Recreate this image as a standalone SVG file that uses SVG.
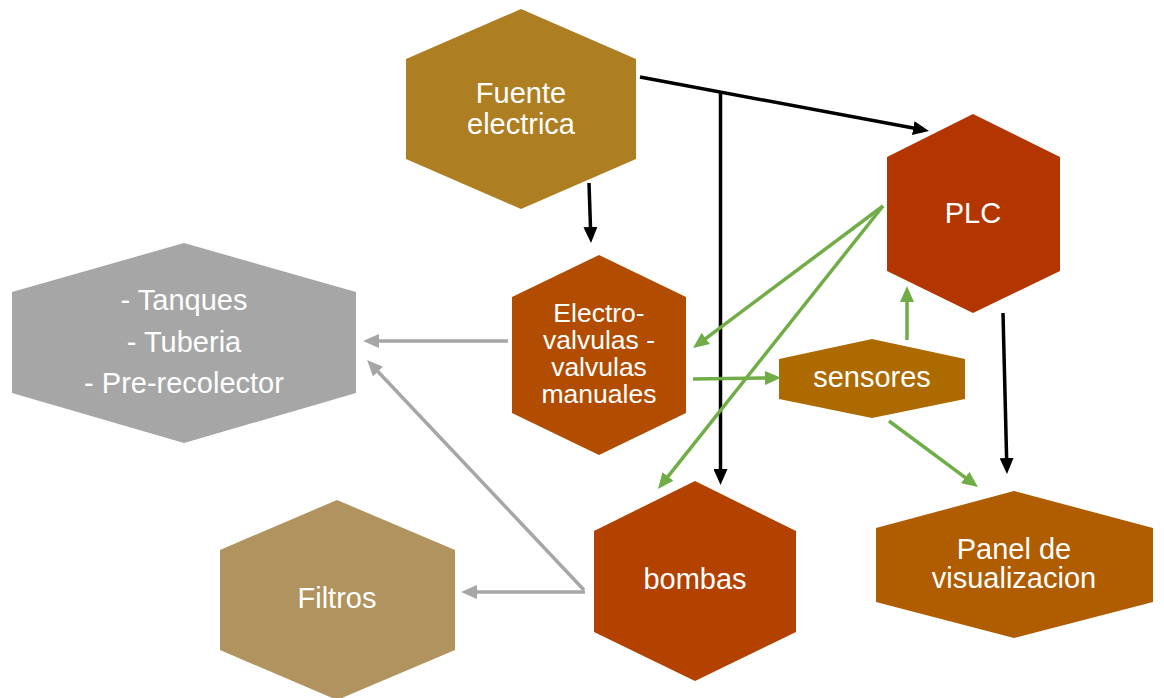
<svg xmlns="http://www.w3.org/2000/svg" width="1164" height="698" viewBox="0 0 1164 698">
<style>
text{font-family:"Liberation Sans",Arial,sans-serif;fill:#fff;text-anchor:middle;font-size:29px}
.sm{font-size:26.5px}
.bk{stroke:#000;stroke-width:3.5;fill:none}
.gr{stroke:#70AD47;stroke-width:3.5;fill:none}
.gy{stroke:#A6A6A6;stroke-width:3.5;fill:none}
</style>
<defs>
<marker id="aBk" markerUnits="userSpaceOnUse" markerWidth="16" markerHeight="14" refX="4" refY="7" orient="auto"><path d="M0,0 L16,7 L0,14 z" fill="#000"/></marker>
<marker id="aGr" markerUnits="userSpaceOnUse" markerWidth="16" markerHeight="14" refX="4" refY="7" orient="auto"><path d="M0,0 L16,7 L0,14 z" fill="#70AD47"/></marker>
<marker id="aGy" markerUnits="userSpaceOnUse" markerWidth="16" markerHeight="14" refX="4" refY="7" orient="auto"><path d="M0,0 L16,7 L0,14 z" fill="#A6A6A6"/></marker>
</defs>
<rect width="1164" height="698" fill="#fff"/>
<g id="fuente">
<polygon points="406,59 521,9 636,59 636,159 521,209 406,159" fill="#AE7E22"/>
<text x="521" y="103">Fuente</text>
<text x="521" y="134">electrica</text>
</g>
<g id="plc">
<polygon points="887,157 973,114 1060,157 1060,271 973,313 887,271" fill="#B33600"/>
<text x="973" y="223">PLC</text>
</g>
<g id="electro">
<polygon points="512,297 599,255 686,297 686,413 599,455 512,413" fill="#B24C00"/>
<text class="sm" x="599" y="322">Electro-</text>
<text class="sm" x="599" y="349">valvulas -</text>
<text class="sm" x="599" y="376">valvulas</text>
<text class="sm" x="599" y="403">manuales</text>
</g>
<g id="tanques">
<polygon points="12,292 184,243 356,292 356,393 184,443 12,393" fill="#A6A6A6"/>
<text x="184" y="310">- Tanques</text>
<text x="184" y="352">- Tuberia</text>
<text x="184" y="393">- Pre-recolector</text>
</g>
<g id="sensores">
<polygon points="779,359 872,339 965,359 965,399 872,418 779,399" fill="#AD6A00"/>
<text x="872" y="387">sensores</text>
</g>
<g id="bombas">
<polygon points="594,531 695,481 796,531 796,632 695,681 594,632" fill="#B34100"/>
<text x="695" y="589">bombas</text>
</g>
<g id="filtros">
<polygon points="220,550 337,500 455,550 455,650 337,700 220,650" fill="#B0935E"/>
<text x="337" y="608">Filtros</text>
</g>
<g id="panel">
<polygon points="876,528 1014,491 1153,528 1153,602 1014,638 876,602" fill="#B05C00"/>
<text x="1014" y="559">Panel de</text>
<text x="1014" y="588">visualizacion</text>
</g>
<g id="connectors">
<line class="bk" x1="640" y1="77" x2="917.2" y2="128.8" marker-end="url(#aBk)"/>
<line class="bk" x1="720.5" y1="92" x2="720.5" y2="473" marker-end="url(#aBk)"/>
<line class="bk" x1="589" y1="183" x2="590.6" y2="231" marker-end="url(#aBk)"/>
<line class="bk" x1="1003" y1="313" x2="1006.7" y2="462" marker-end="url(#aBk)"/>
<line class="gr" x1="883" y1="206" x2="702.6" y2="340.8" marker-end="url(#aGr)"/>
<line class="gr" x1="883" y1="206" x2="665.5" y2="479.6" marker-end="url(#aGr)"/>
<line class="gr" x1="693" y1="379" x2="769" y2="378" marker-end="url(#aGr)"/>
<line class="gr" x1="907" y1="340" x2="907" y2="298" marker-end="url(#aGr)"/>
<line class="gr" x1="889" y1="421" x2="968.4" y2="479.9" marker-end="url(#aGr)"/>
<line class="gy" x1="508" y1="341" x2="375" y2="341" marker-end="url(#aGy)"/>
<line class="gy" x1="584" y1="590" x2="375.3" y2="368.7" marker-end="url(#aGy)"/>
<line class="gy" x1="585" y1="592" x2="473" y2="592" marker-end="url(#aGy)"/>
</g>
</svg>
